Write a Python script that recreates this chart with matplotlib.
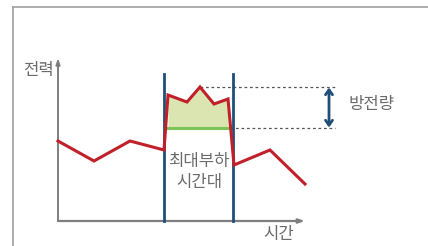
import numpy as np
import matplotlib
matplotlib.use("Agg")
import matplotlib.pyplot as plt

plt.rcParams['font.family'] = ['Noto Sans CJK KR', 'DejaVu Sans']

# time / power values (arbitrary units)
time = [0, 36, 72, 106, 110, 129, 142, 156, 170, 176, 212, 247]
power = [80, 60, 80, 71, 126, 119, 134, 117, 122, 56, 71, 37]

peak_start, peak_end = 106, 175   # 최대부하 시간대
base_level = 93                    # 방전 후 수준
peak_level = 134
axis_len_x = 247
axis_len_y = 163

red = '#c0202a'
blue = '#1f4e79'
green = '#7cc35a'
fill_green = '#dbe5b1'
gray = '#7f7f7f'
txt = '#6b6b6b'

fig = plt.figure(figsize=(4.28, 2.46), dpi=100)
ax = fig.add_axes([0, 0, 1, 1])
ax.set_xlim(-58, 370)
ax.set_ylim(-25, 221)
ax.axis('off')

# outer frame (left and top edge)
ax.plot([12.5 / 428, 12.5 / 428], [0, 1 - 6.5 / 246], color='#a0a0a0', lw=1.2,
        transform=ax.transAxes, clip_on=False)
ax.plot([12.5 / 428, 1], [1 - 6.5 / 246, 1 - 6.5 / 246], color='#a0a0a0', lw=1.2,
        transform=ax.transAxes, clip_on=False)

# axes with arrows
ax.annotate('', xy=(0, axis_len_y), xytext=(0, 0),
            arrowprops=dict(arrowstyle='-|>,head_length=0.35,head_width=0.12',
                            color=gray, lw=1.4, shrinkA=0, shrinkB=0))
ax.annotate('', xy=(axis_len_x, 0), xytext=(0, 0),
            arrowprops=dict(arrowstyle='-|>,head_length=0.35,head_width=0.12',
                            color=gray, lw=1.6, shrinkA=0, shrinkB=0))

# fill between the red line and the base level inside the peak window
t = np.array(time)
p = np.array(power)
inside = (t >= 110) & (t <= 170)
tf = np.concatenate([[110], t[inside], [170]])
pf = np.concatenate([[power[4]], p[inside], [power[8]]])
ax.fill_between(tf, pf, base_level, color=fill_green, lw=0, zorder=1)
ax.plot([110, 172], [base_level, base_level], color=green, lw=2.2, zorder=2)

# peak window borders
for x in (peak_start, peak_end):
    ax.plot([x, x], [0, 147], color=blue, lw=2, zorder=3)

# power curve
ax.plot(time, power, color=red, lw=2.2, zorder=4, solid_joinstyle='miter')

# dotted guides
ax.plot([142, 278], [peak_level, peak_level], color='#555555', lw=0.9,
        ls=(0, (2.2, 2.2)), zorder=2)
ax.plot([172, 277], [base_level, base_level], color='#555555', lw=0.9,
        ls=(0, (2.2, 2.2)), zorder=2)

# discharge amount arrow
ax.annotate('', xy=(271, peak_level - 0.5), xytext=(271, base_level + 0.5),
            arrowprops=dict(arrowstyle='<->,head_length=0.35,head_width=0.25',
                            color=blue, lw=2, shrinkA=0, shrinkB=0))

fs = 12
ax.text(291, 116, '방전량', fontsize=fs, color=txt, va='center', ha='left')
ax.text(-4, 151, '전력', fontsize=fs, color=txt, va='center', ha='right')
ax.text(221, -13, '시간', fontsize=fs, color=txt, va='center', ha='center')
ax.text(141, 49, '최대부하\n시간대', fontsize=fs, color=txt, va='center',
        ha='center', linespacing=1.25)

fig.savefig('out.png', dpi=100)
